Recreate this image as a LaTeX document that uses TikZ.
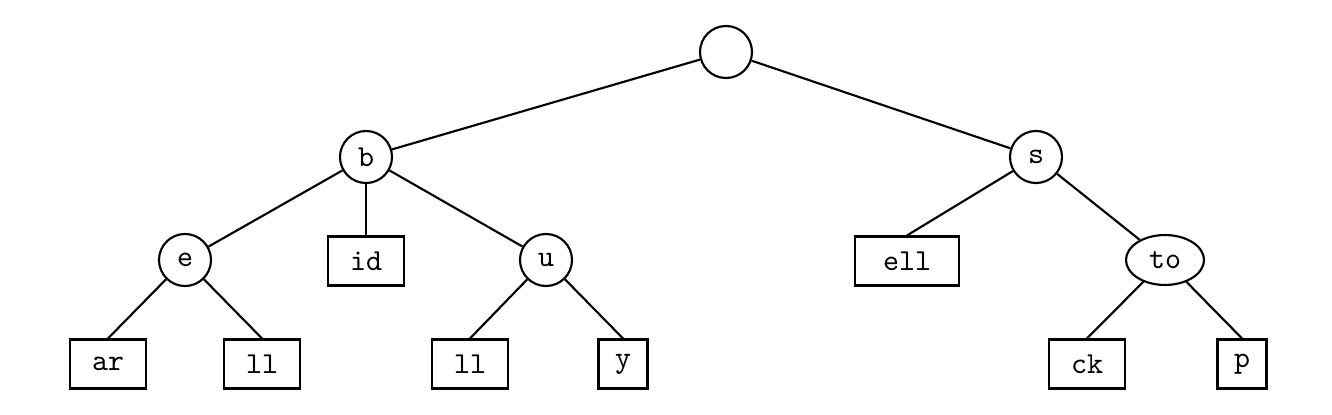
\documentclass[tikz,border=0pt]{standalone}
\usepackage{tikz}
\usetikzlibrary{shapes.geometric}

\tikzset{
  inner/.style={draw, circle, minimum size=0.6cm, inner sep=0pt, font=\ttfamily},
  leaf/.style={draw, rectangle, minimum height=0.565cm, minimum width=0.876cm, inner sep=0pt, font=\ttfamily},
}

\begin{document}
\begin{tikzpicture}[x=0.01153cm, y=-0.01153cm, line width=0.7pt]
        \useasboundingbox (0,0) rectangle (1332,415);
        % internal nodes
        \node[inner] (root) at (726,52) {};
        \node[inner] (b) at (366,157) {b};
        \node[inner] (s) at (1036,157) {s};
        \node[inner] (e) at (185,260) {e};
        \node[inner] (u) at (546,260) {u};
        \node[draw, ellipse, minimum width=0.9cm, minimum height=0.576cm, inner sep=0pt, font=\ttfamily] (nto) at (1165,260) {to};
        % leaves
        \node[leaf] (id) at (366,261) {id};
        \node[leaf, minimum width=1.19cm] (ell) at (907,261) {ell};
        \node[leaf] (ar) at (108,364) {ar};
        \node[leaf] (ll1) at (262,364) {ll};
        \node[leaf] (ll2) at (470,364) {ll};
        \node[leaf, minimum width=0.565cm] (y) at (623,364) {y};
        \node[leaf] (ck) at (1087,364) {ck};
        \node[leaf, minimum width=0.565cm] (p) at (1242,364) {p};
        % edges
        \draw (root) -- (b);
        \draw (root) -- (s);
        \draw (b) -- (e);
        \draw (b) -- (id.north);
        \draw (b) -- (u);
        \draw (e) -- (ar.north);
        \draw (e) -- (ll1.north);
        \draw (u) -- (ll2.north);
        \draw (u) -- (y.north);
        \draw (s) -- (ell.north);
        \draw (s) -- (nto);
        \draw (nto) -- (ck.north);
        \draw (nto) -- (p.north);
    \end{tikzpicture}
\end{document}
